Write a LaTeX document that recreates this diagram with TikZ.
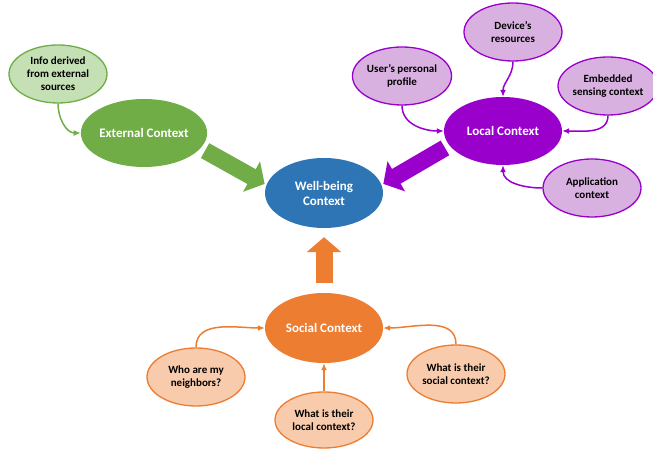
\documentclass[tikz,border=0pt]{standalone}
\usepackage{fontspec}
\setmainfont{Carlito}
\usetikzlibrary{arrows.meta,shapes.geometric}

\definecolor{grn}{HTML}{70AD47}
\definecolor{lgrn}{HTML}{C5E0B4}
\definecolor{blu}{HTML}{2E75B6}
\definecolor{org}{HTML}{ED7D31}
\definecolor{lorg}{HTML}{F8CBAD}
\definecolor{prp}{HTML}{9900CC}
\definecolor{lprp}{HTML}{D9B1E1}

\tikzset{
  hub/.style={ellipse,fill=#1,text=white,inner sep=0pt,align=center,
    minimum width=118pt,minimum height=68pt,
    font=\fontsize{13}{15}\selectfont\bfseries},
  leaf/.style={ellipse,draw=#1,line width=1.3pt,inner sep=0pt,align=center,
    minimum width=98pt,minimum height=58pt,
    font=\fontsize{11}{13}\selectfont\bfseries},
  feed/.style={draw=#1,line width=1.5pt,-{Latex[length=7pt,width=6pt]}},
  bigarrow/.style={draw=#1,line width=17pt,-{Triangle[length=15pt,width=34pt]}}
}

\begin{document}
\begin{tikzpicture}[x=1pt,y=1pt]
\useasboundingbox (0,0) rectangle (653,449);

\node[hub=blu,minimum height=70pt] (well) at (324,256) {Well-being\\Context};
\node[hub=grn] (ext) at (144,316) {External Context};
\node[hub=prp] (local) at (503,318) {Local Context};
\node[hub=org,minimum height=70pt] (social) at (324,121) {Social Context};

\node[leaf=grn,fill=lgrn] (info) at (58,375) {Info derived\\from external\\sources};

\node[leaf=prp,fill=lprp] (dev) at (513,417) {Device's\\resources};
\node[leaf=prp,fill=lprp,minimum width=96pt] (user) at (402,373) {User's personal\\profile};
\node[leaf=prp,fill=lprp,minimum width=92pt] (emb) at (608,363) {Embedded\\sensing context};
\node[leaf=prp,fill=lprp] (app) at (592,261) {Application\\context};

\node[leaf=org,fill=lorg] (nbr) at (196,72) {Who are my\\neighbors?};
\node[leaf=org,fill=lorg,minimum height=56pt] (loc) at (324,29) {What is their\\local context?};
\node[leaf=org,fill=lorg] (soc) at (456,75) {What is their\\social context?};

\draw[feed=grn] (info.south) to[out=-90,in=180] (ext.west);

\draw[feed=prp] (user.south) to[out=-90,in=180] (local.west);
\draw[feed=prp] (dev.south) to[out=-90,in=90] (local.north);
\draw[feed=prp] (emb.south) to[out=-90,in=0] (local.east);
\draw[feed=prp] (app.west) to[out=180,in=-90] (local.south);

\draw[feed=org] (nbr.north) to[out=90,in=180] (social.west);
\draw[feed=org] (loc.north) -- (social.south);
\draw[feed=org] (soc.north) to[out=90,in=0] (social.east);

\draw[bigarrow=grn,shorten <=5pt,shorten >=2pt] (ext.-15) -- (well.172);
\draw[bigarrow=prp,shorten <=5pt,shorten >=2pt] (local.195) -- (well.8);
\draw[bigarrow=org,shorten <=10pt,shorten >=9pt] (social.north) -- (well.south);

\end{tikzpicture}
\end{document}
